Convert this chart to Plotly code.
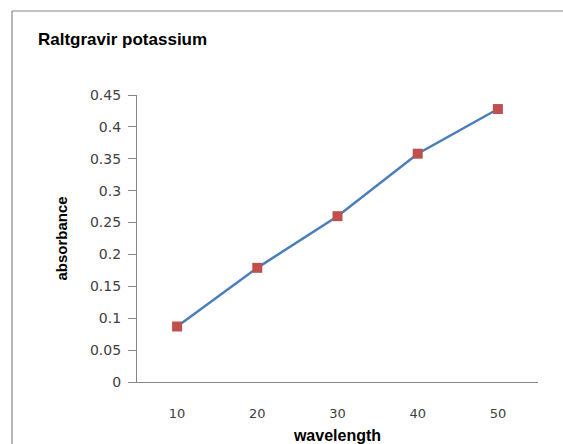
import plotly.graph_objects as go

wavelength = [10, 20, 30, 40, 50]
absorbance = [0.087, 0.179, 0.26, 0.358, 0.428]
y_ticks = [0, 0.05, 0.1, 0.15, 0.2, 0.25, 0.3, 0.35, 0.4, 0.45]
y_tick_labels = ["0", "0.05", "0.1", "0.15", "0.2", "0.25", "0.3", "0.35", "0.4", "0.45"]

W, H = 563, 444
L, R, T, B = 137, 25, 95, 62
pw, ph = W - L - R, H - T - B

fig = go.Figure()
fig.add_trace(go.Scatter(
    x=wavelength, y=absorbance, mode="lines+markers",
    line=dict(color="#4A7EBB", width=2.5),
    marker=dict(symbol="square", size=10, color="#C0504D",
                line=dict(color="#C0504D", width=0)),
    showlegend=False,
))

def px_x(p):
    return (p - L) / pw

def px_y(p):
    return (H - B - p) / ph

border = dict(color="#868686", width=1.2)
fig.add_shape(type="line", xref="paper", yref="paper",
              x0=px_x(12), x1=px_x(W), y0=px_y(11), y1=px_y(11), line=border, layer="below")
fig.add_shape(type="line", xref="paper", yref="paper",
              x0=px_x(12), x1=px_x(12), y0=px_y(11), y1=px_y(H), line=border, layer="below")

fig.update_layout(
    width=W, height=H,
    margin=dict(l=L, r=R, t=T, b=B, pad=0),
    paper_bgcolor="white", plot_bgcolor="white",
    font=dict(family="DejaVu Sans", size=12, color="#404040"),
    title=dict(text="<b>Raltgravir potassium</b>", xref="container", yref="container",
               x=38 / W, xanchor="left",
               y=1 - 39 / H, yanchor="middle",
               font=dict(family="Liberation Sans", size=17, color="#000000")),
    xaxis=dict(
        range=[5, 55], tickvals=wavelength, ticktext=[str(v) for v in wavelength],
        showgrid=False, zeroline=False, showline=True, linecolor="#868686", linewidth=1.2,
        ticks="", ticklabelstandoff=19, automargin=False,
        tickfont=dict(family="DejaVu Sans", size=13, color="#404040"),
        title=dict(text="<b>wavelength</b>", standoff=13,
                   font=dict(family="Liberation Sans", size=16, color="#000000")),
        fixedrange=True,
    ),
    yaxis=dict(
        range=[0, 0.45], tickvals=y_ticks, ticktext=y_tick_labels,
        showgrid=False, zeroline=False, showline=True, linecolor="#868686", linewidth=1.2,
        ticks="outside", ticklen=8, tickcolor="#868686", tickwidth=1,
        ticklabelstandoff=4, automargin=False,
        tickfont=dict(family="DejaVu Sans", size=14, color="#404040"),
        title=dict(text="<b>absorbance</b>", standoff=18,
                   font=dict(family="Liberation Sans", size=15, color="#000000")),
        fixedrange=True,
    ),
)

fig.write_html("out.html")
